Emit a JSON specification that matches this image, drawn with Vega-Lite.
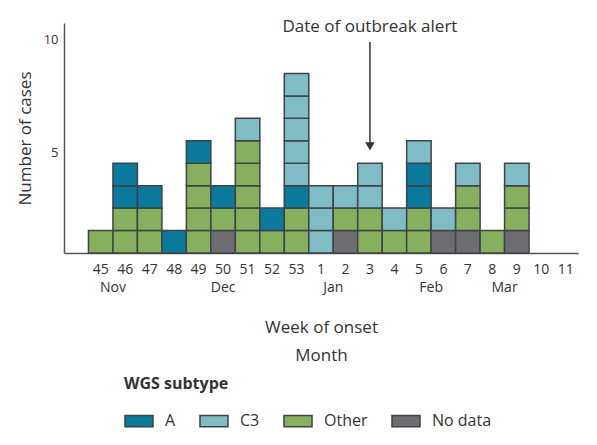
{
  "$schema": "https://vega.github.io/schema/vega-lite/v6.json",
  "autosize": {"type": "none"},
  "width": 514,
  "height": 230,
  "padding": {"left": 64, "top": 23, "right": 19, "bottom": 192},
  "background": "white",
  "config": {
    "font": "Open Sans",
    "view": {"stroke": null},
    "axis": {"domainColor": "#555", "domainWidth": 1.5, "ticks": false, "grid": false, "labelColor": "#333", "titleColor": "#333", "titleFontWeight": "normal"}
  },
  "datasets": {
    "cases": [
      {"week": "45", "subtype": "Other", "cases": 1},
      {"week": "46", "subtype": "Other", "cases": 1},
      {"week": "46", "subtype": "Other", "cases": 1},
      {"week": "46", "subtype": "A", "cases": 1},
      {"week": "46", "subtype": "A", "cases": 1},
      {"week": "47", "subtype": "Other", "cases": 1},
      {"week": "47", "subtype": "Other", "cases": 1},
      {"week": "47", "subtype": "A", "cases": 1},
      {"week": "48", "subtype": "A", "cases": 1},
      {"week": "49", "subtype": "Other", "cases": 1},
      {"week": "49", "subtype": "Other", "cases": 1},
      {"week": "49", "subtype": "Other", "cases": 1},
      {"week": "49", "subtype": "Other", "cases": 1},
      {"week": "49", "subtype": "A", "cases": 1},
      {"week": "50", "subtype": "No data", "cases": 1},
      {"week": "50", "subtype": "Other", "cases": 1},
      {"week": "50", "subtype": "A", "cases": 1},
      {"week": "51", "subtype": "Other", "cases": 1},
      {"week": "51", "subtype": "Other", "cases": 1},
      {"week": "51", "subtype": "Other", "cases": 1},
      {"week": "51", "subtype": "Other", "cases": 1},
      {"week": "51", "subtype": "Other", "cases": 1},
      {"week": "51", "subtype": "C3", "cases": 1},
      {"week": "52", "subtype": "Other", "cases": 1},
      {"week": "52", "subtype": "A", "cases": 1},
      {"week": "53", "subtype": "Other", "cases": 1},
      {"week": "53", "subtype": "Other", "cases": 1},
      {"week": "53", "subtype": "A", "cases": 1},
      {"week": "53", "subtype": "C3", "cases": 1},
      {"week": "53", "subtype": "C3", "cases": 1},
      {"week": "53", "subtype": "C3", "cases": 1},
      {"week": "53", "subtype": "C3", "cases": 1},
      {"week": "53", "subtype": "C3", "cases": 1},
      {"week": "1", "subtype": "C3", "cases": 1},
      {"week": "1", "subtype": "C3", "cases": 1},
      {"week": "1", "subtype": "C3", "cases": 1},
      {"week": "2", "subtype": "No data", "cases": 1},
      {"week": "2", "subtype": "Other", "cases": 1},
      {"week": "2", "subtype": "C3", "cases": 1},
      {"week": "3", "subtype": "Other", "cases": 1},
      {"week": "3", "subtype": "Other", "cases": 1},
      {"week": "3", "subtype": "C3", "cases": 1},
      {"week": "3", "subtype": "C3", "cases": 1},
      {"week": "4", "subtype": "Other", "cases": 1},
      {"week": "4", "subtype": "C3", "cases": 1},
      {"week": "5", "subtype": "Other", "cases": 1},
      {"week": "5", "subtype": "Other", "cases": 1},
      {"week": "5", "subtype": "A", "cases": 1},
      {"week": "5", "subtype": "A", "cases": 1},
      {"week": "5", "subtype": "C3", "cases": 1},
      {"week": "6", "subtype": "No data", "cases": 1},
      {"week": "6", "subtype": "C3", "cases": 1},
      {"week": "7", "subtype": "No data", "cases": 1},
      {"week": "7", "subtype": "Other", "cases": 1},
      {"week": "7", "subtype": "Other", "cases": 1},
      {"week": "7", "subtype": "C3", "cases": 1},
      {"week": "8", "subtype": "Other", "cases": 1},
      {"week": "9", "subtype": "No data", "cases": 1},
      {"week": "9", "subtype": "Other", "cases": 1},
      {"week": "9", "subtype": "Other", "cases": 1},
      {"week": "9", "subtype": "C3", "cases": 1}
    ],
    "stackOrder": [
      {"subtype": "No data", "rank": 1},
      {"subtype": "Other", "rank": 2},
      {"subtype": "A", "rank": 3},
      {"subtype": "C3", "rank": 4}
    ],
    "months": [
      {"month": "Nov", "week": "46", "at": "start"},
      {"month": "Dec", "week": "50", "at": "middle"},
      {"month": "Jan", "week": "2", "at": "start"},
      {"month": "Feb", "week": "6", "at": "start"},
      {"month": "Mar", "week": "9", "at": "start"}
    ],
    "alert": [
      {"week": "3", "from": 9.4, "to": 4.75, "label": "Date of outbreak alert"}
    ]
  },
  "encoding": {
    "x": {
      "field": "week",
      "type": "nominal",
      "scale": {"domain": [" ", "45", "46", "47", "48", "49", "50", "51", "52", "53", "1", "2", "3", "4", "5", "6", "7", "8", "9", "10", "11"], "paddingInner": 0, "paddingOuter": 0},
      "axis": {"labelAngle": 0, "labelFontSize": 14, "labelPadding": 9, "title": ["Week of onset", "Month"], "titleFontSize": 17, "titleLineHeight": 28, "titlePadding": 43}
    }
  },
  "layer": [
    {
      "data": {"name": "cases"},
      "transform": [
        {"lookup": "subtype", "from": {"data": {"name": "stackOrder"}, "key": "subtype", "fields": ["rank"]}}
      ],
      "mark": {"type": "bar", "stroke": "#3d4347", "strokeWidth": 1.5},
      "encoding": {
        "y": {
          "field": "cases",
          "type": "quantitative",
          "stack": "zero",
          "scale": {"domain": [0, 10.25], "nice": false, "zero": true},
          "axis": {"values": [4.5, 9.5], "labelExpr": "format(datum.value + 0.5, 'd')", "labelFontSize": 13, "labelPadding": 6, "title": "Number of cases", "titleFontSize": 17, "titlePadding": 9}
        },
        "order": {"field": "rank", "type": "quantitative", "sort": "ascending"},
        "color": {
          "field": "subtype",
          "type": "nominal",
          "scale": {"domain": ["A", "C3", "Other", "No data"], "range": ["#0b7a9c", "#7fbcc6", "#86b05e", "#6d6d72"]},
          "legend": {
            "title": "WGS subtype",
            "orient": "none",
            "legendX": 60,
            "legendY": 353,
            "direction": "horizontal",
            "titleFontSize": 16,
            "titleFontWeight": "bold",
            "titleColor": "#333",
            "titlePadding": 14,
            "labelFontSize": 16,
            "labelColor": "#333",
            "labelOffset": 11,
            "columnPadding": 21,
            "symbolType": "M-1,-0.4H1V0.4H-1Z",
            "symbolSize": 784,
            "symbolStrokeColor": "#3d4347",
            "symbolStrokeWidth": 1.5,
            "symbolOpacity": 1,
            "padding": 0
          }
        }
      }
    },
    {
      "data": {"name": "months"},
      "transform": [{"filter": "datum.at == 'start'"}],
      "mark": {"type": "text", "y": "height", "dy": 35, "fontSize": 14, "color": "#333", "baseline": "middle"},
      "encoding": {
        "x": {"field": "week", "type": "nominal", "bandPosition": 0},
        "text": {"field": "month"}
      }
    },
    {
      "data": {"name": "months"},
      "transform": [{"filter": "datum.at == 'middle'"}],
      "mark": {"type": "text", "y": "height", "dy": 35, "fontSize": 14, "color": "#333", "baseline": "middle"},
      "encoding": {
        "x": {"field": "week", "type": "nominal", "bandPosition": 0.5},
        "text": {"field": "month"}
      }
    },
    {
      "data": {"name": "alert"},
      "mark": {"type": "rule", "color": "#333", "strokeWidth": 1.5},
      "encoding": {
        "y": {"field": "from", "type": "quantitative"},
        "y2": {"field": "to"}
      }
    },
    {
      "data": {"name": "alert"},
      "mark": {"type": "point", "shape": "triangle-down", "filled": true, "color": "#333", "size": 90, "opacity": 1, "dy": -4},
      "encoding": {
        "y": {"field": "to", "type": "quantitative"}
      }
    },
    {
      "data": {"name": "alert"},
      "mark": {"type": "text", "fontSize": 17, "color": "#333", "baseline": "alphabetic", "dy": -10},
      "encoding": {
        "y": {"field": "from", "type": "quantitative"},
        "text": {"field": "label"}
      }
    }
  ]
}
